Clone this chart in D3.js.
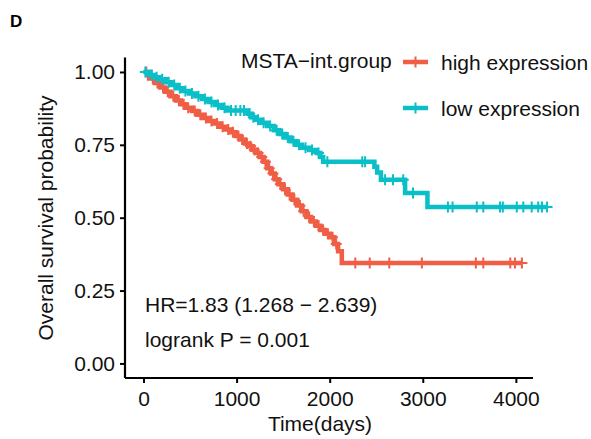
<!DOCTYPE html>
<html>
<head>
<meta charset="utf-8">
<script src="https://cdn.jsdelivr.net/npm/d3@7"></script>
<style>
  body { margin: 0; background: #fff; }
  svg { display: block; font-family: "Liberation Sans", Arial, sans-serif; }
</style>
</head>
<body>
<div id="chart"></div>
<script>
// survival steps (time in days, survival after the drop)
const highTimes = [60, 120, 180, 230, 290, 350, 400, 450, 520, 580, 640, 700, 760, 820, 880, 940, 990, 1040, 1090, 1130, 1170, 1210, 1250, 1290, 1330, 1370, 1410, 1450, 1500, 1550, 1600, 1650, 1700, 1750, 1800, 1850, 1900, 1950, 2000, 2050, 2090, 2130];
const highSurv = [0.978, 0.962, 0.947, 0.932, 0.917, 0.902, 0.889, 0.877, 0.866, 0.853, 0.842, 0.832, 0.823, 0.812, 0.803, 0.793, 0.780, 0.768, 0.755, 0.745, 0.733, 0.722, 0.708, 0.692, 0.670, 0.652, 0.632, 0.615, 0.598, 0.580, 0.562, 0.542, 0.522, 0.502, 0.487, 0.472, 0.458, 0.445, 0.433, 0.410, 0.385, 0.345];
const highCensor = [30, 100, 150, 210, 260, 320, 380, 430, 480, 550, 610, 670, 730, 790, 850, 910, 960, 1020, 1060, 1110, 1150, 1190, 1230, 1270, 1310, 1350, 1390, 1430, 1470, 1520, 1570, 1620, 1680, 1720, 1780, 1830, 1880, 1930, 1980, 2030, 2070, 2275, 2430, 2640, 2990, 3570, 3650, 3940, 3990, 4065];

const lowTimes = [60, 120, 180, 240, 300, 360, 420, 490, 560, 630, 700, 770, 840, 900, 1120, 1160, 1200, 1260, 1330, 1400, 1460, 1520, 1580, 1640, 1700, 1780, 1860, 1900, 1930, 2480, 2510, 2550, 2810, 3050];
const lowSurv = [0.990, 0.982, 0.975, 0.965, 0.955, 0.944, 0.935, 0.926, 0.917, 0.907, 0.897, 0.887, 0.877, 0.868, 0.857, 0.845, 0.836, 0.826, 0.815, 0.800, 0.787, 0.775, 0.762, 0.750, 0.740, 0.732, 0.722, 0.708, 0.692, 0.675, 0.655, 0.630, 0.585, 0.537];
const lowCensor = [20, 90, 140, 200, 270, 330, 390, 450, 520, 590, 660, 730, 800, 870, 940, 990, 1040, 1080, 1140, 1180, 1230, 1290, 1360, 1430, 1490, 1550, 1610, 1670, 1740, 1810, 1880, 1975, 2350, 2380, 2595, 2680, 2790, 2895, 3270, 3320, 3580, 3650, 3830, 3860, 4010, 4080, 4170, 4240, 4280, 4335];

const xTicks = [0, 1000, 2000, 3000, 4000];
const yTicks = [0, 0.25, 0.5, 0.75, 1];
const groups = [
  {name: "high expression", color: "#EF5E45", times: highTimes, surv: highSurv, censor: highCensor},
  {name: "low expression", color: "#09BFC8", times: lowTimes, surv: lowSurv, censor: lowCensor}
];

const W = 591, H = 439;
const FS = "21px";
const svg = d3.select("#chart").append("svg").attr("width", W).attr("height", H);

const x = d3.scaleLinear().domain([-199, 4184]).range([125, 533]);
const y = d3.scaleLinear().domain([-0.05, 1.05]).range([378, 57.4]);

// survival value at time t
function survAt(g, t) {
  let s = 1;
  g.times.forEach((tt, i) => { if (tt <= t) s = g.surv[i]; });
  return s;
}

const line = d3.line().x(d => x(d[0])).y(d => y(d[1])).curve(d3.curveStepAfter);

groups.forEach(g => {
  const end = d3.max(g.censor);
  const pts = [[0, 1]].concat(g.times.map((t, i) => [t, g.surv[i]]));
  pts.push([end, g.surv[g.surv.length - 1]]);
  svg.append("path")
    .attr("d", line(pts))
    .attr("fill", "none")
    .attr("stroke", g.color)
    .attr("stroke-width", 4.5);
  svg.append("g").selectAll("path")
    .data(g.censor)
    .join("path")
    .attr("d", t => {
      const cx = x(t), cy = y(survAt(g, t));
      return `M${cx},${cy - 5.5}V${cy + 5.5}M${cx - 5.5},${cy}H${cx + 5.5}`;
    })
    .attr("stroke", g.color)
    .attr("stroke-width", 2);
});

// axes
const xAxis = svg.append("g").attr("transform", "translate(0,378)")
  .call(d3.axisBottom(x).tickValues(xTicks).tickSize(5).tickPadding(5).tickFormat(d3.format("d")));
xAxis.select(".domain").attr("d", "M125,0H533");
const yAxis = svg.append("g").attr("transform", "translate(125,0)")
  .call(d3.axisLeft(y).tickValues(yTicks).tickSize(5).tickPadding(5).tickFormat(d3.format(".2f")));
yAxis.select(".domain").attr("d", "M0,57.4V378");
[xAxis, yAxis].forEach(a => {
  a.selectAll(".domain").attr("stroke", "#000").attr("stroke-width", 2.2);
  a.selectAll(".tick line").attr("stroke", "#000").attr("stroke-width", 2);
  a.selectAll("text").attr("fill", "#111").style("font-size", FS).style("font-family", "Liberation Sans, Arial, sans-serif");
});
xAxis.selectAll("text").attr("dy", "0.85em");

svg.append("text").attr("x", 320).attr("y", 431).attr("text-anchor", "middle")
  .style("font-size", FS).attr("fill", "#111").text("Time(days)");
svg.append("text").attr("transform", "translate(53,218) rotate(-90)").attr("text-anchor", "middle")
  .style("font-size", FS).attr("fill", "#111").text("Overall survival probability");

svg.append("text").attr("x", 10).attr("y", 27).style("font-size", "17px").style("font-weight", "bold").text("D");

svg.append("text").attr("x", 145).attr("y", 312).style("font-size", FS).attr("fill", "#111")
  .text("HR=1.83 (1.268 \u2212 2.639)");
svg.append("text").attr("x", 145).attr("y", 347).style("font-size", FS).attr("fill", "#111")
  .text("logrank P = 0.001");

// legend
svg.append("text").attr("x", 241).attr("y", 68).style("font-size", FS).attr("fill", "#111")
  .text("MSTA\u2212int.group");
const keyY = [62, 108];
groups.forEach((g, i) => {
  const row = svg.append("g").attr("transform", `translate(0,${keyY[i]})`);
  row.append("line").attr("x1", 403).attr("x2", 428).attr("stroke", g.color).attr("stroke-width", 4.5);
  row.append("line").attr("x1", 415.5).attr("x2", 415.5).attr("y1", -5.5).attr("y2", 5.5)
    .attr("stroke", g.color).attr("stroke-width", 2);
  row.append("text").attr("x", 441).attr("y", 7.5).style("font-size", FS).attr("fill", "#111").text(g.name);
});
</script>
</body>
</html>
